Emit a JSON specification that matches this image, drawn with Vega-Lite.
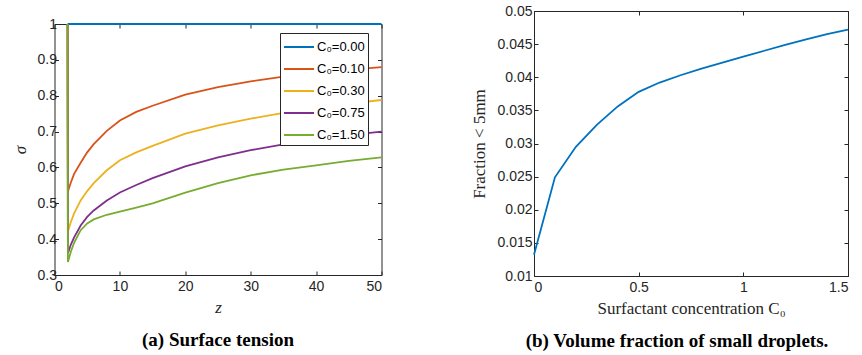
{
  "$schema": "https://vega.github.io/schema/vega-lite/v6.json",
  "background": "white",
  "padding": {"left": 10.5, "top": 4, "right": 2, "bottom": 0},
  "spacing": 84.5,
  "config": {
    "view": {"stroke": null},
    "axis": {
      "domainColor": "#262626", "tickColor": "#262626", "labelColor": "#262626",
      "labelFont": "Liberation Sans", "labelFontSize": 14,
      "titleFont": "Liberation Serif", "titleFontWeight": "normal", "titleColor": "#262626", "titleFontSize": 17,
      "grid": false, "tickSize": -4, "domainWidth": 1, "tickWidth": 1
    },
    "title": {"font": "Liberation Serif", "fontSize": 19, "fontWeight": "bold", "color": "#000"}
  },
  "datasets": {
    "left": [
      {"C0": "C₀=0.00", "z": 2, "s": 1}, {"C0": "C₀=0.00", "z": 50, "s": 1},
      {"C0": "C₀=0.10", "z": 2, "s": 1}, {"C0": "C₀=0.10", "z": 2.05, "s": 0.533}, {"C0": "C₀=0.10", "z": 2.5, "s": 0.558}, {"C0": "C₀=0.10", "z": 3, "s": 0.582}, {"C0": "C₀=0.10", "z": 4, "s": 0.613}, {"C0": "C₀=0.10", "z": 5, "s": 0.642}, {"C0": "C₀=0.10", "z": 6, "s": 0.665}, {"C0": "C₀=0.10", "z": 8, "s": 0.702}, {"C0": "C₀=0.10", "z": 10, "s": 0.731}, {"C0": "C₀=0.10", "z": 12.5, "s": 0.755}, {"C0": "C₀=0.10", "z": 15, "s": 0.772}, {"C0": "C₀=0.10", "z": 20, "s": 0.803}, {"C0": "C₀=0.10", "z": 25, "s": 0.824}, {"C0": "C₀=0.10", "z": 30, "s": 0.84}, {"C0": "C₀=0.10", "z": 35, "s": 0.853}, {"C0": "C₀=0.10", "z": 40, "s": 0.864}, {"C0": "C₀=0.10", "z": 45, "s": 0.872}, {"C0": "C₀=0.10", "z": 50, "s": 0.88},
      {"C0": "C₀=0.30", "z": 2, "s": 1}, {"C0": "C₀=0.30", "z": 2.05, "s": 0.421}, {"C0": "C₀=0.30", "z": 2.5, "s": 0.448}, {"C0": "C₀=0.30", "z": 3, "s": 0.472}, {"C0": "C₀=0.30", "z": 4, "s": 0.508}, {"C0": "C₀=0.30", "z": 5, "s": 0.534}, {"C0": "C₀=0.30", "z": 6, "s": 0.556}, {"C0": "C₀=0.30", "z": 8, "s": 0.592}, {"C0": "C₀=0.30", "z": 10, "s": 0.62}, {"C0": "C₀=0.30", "z": 12.5, "s": 0.642}, {"C0": "C₀=0.30", "z": 15, "s": 0.66}, {"C0": "C₀=0.30", "z": 20, "s": 0.694}, {"C0": "C₀=0.30", "z": 25, "s": 0.717}, {"C0": "C₀=0.30", "z": 30, "s": 0.736}, {"C0": "C₀=0.30", "z": 35, "s": 0.752}, {"C0": "C₀=0.30", "z": 40, "s": 0.766}, {"C0": "C₀=0.30", "z": 45, "s": 0.778}, {"C0": "C₀=0.30", "z": 50, "s": 0.788},
      {"C0": "C₀=0.75", "z": 2, "s": 1}, {"C0": "C₀=0.75", "z": 2.05, "s": 0.36}, {"C0": "C₀=0.75", "z": 2.5, "s": 0.385}, {"C0": "C₀=0.75", "z": 3, "s": 0.405}, {"C0": "C₀=0.75", "z": 4, "s": 0.438}, {"C0": "C₀=0.75", "z": 5, "s": 0.462}, {"C0": "C₀=0.75", "z": 6, "s": 0.48}, {"C0": "C₀=0.75", "z": 8, "s": 0.508}, {"C0": "C₀=0.75", "z": 10, "s": 0.53}, {"C0": "C₀=0.75", "z": 12.5, "s": 0.551}, {"C0": "C₀=0.75", "z": 15, "s": 0.57}, {"C0": "C₀=0.75", "z": 20, "s": 0.603}, {"C0": "C₀=0.75", "z": 25, "s": 0.628}, {"C0": "C₀=0.75", "z": 30, "s": 0.648}, {"C0": "C₀=0.75", "z": 35, "s": 0.664}, {"C0": "C₀=0.75", "z": 40, "s": 0.678}, {"C0": "C₀=0.75", "z": 45, "s": 0.69}, {"C0": "C₀=0.75", "z": 50, "s": 0.7},
      {"C0": "C₀=1.50", "z": 2, "s": 1}, {"C0": "C₀=1.50", "z": 2.05, "s": 0.336}, {"C0": "C₀=1.50", "z": 2.5, "s": 0.365}, {"C0": "C₀=1.50", "z": 3, "s": 0.39}, {"C0": "C₀=1.50", "z": 4, "s": 0.425}, {"C0": "C₀=1.50", "z": 5, "s": 0.444}, {"C0": "C₀=1.50", "z": 6, "s": 0.455}, {"C0": "C₀=1.50", "z": 8, "s": 0.468}, {"C0": "C₀=1.50", "z": 10, "s": 0.477}, {"C0": "C₀=1.50", "z": 12.5, "s": 0.488}, {"C0": "C₀=1.50", "z": 15, "s": 0.5}, {"C0": "C₀=1.50", "z": 20, "s": 0.53}, {"C0": "C₀=1.50", "z": 25, "s": 0.556}, {"C0": "C₀=1.50", "z": 30, "s": 0.578}, {"C0": "C₀=1.50", "z": 35, "s": 0.594}, {"C0": "C₀=1.50", "z": 40, "s": 0.606}, {"C0": "C₀=1.50", "z": 45, "s": 0.618}, {"C0": "C₀=1.50", "z": 50, "s": 0.628}
    ],
    "right": [
      {"c": 0, "f": 0.0132}, {"c": 0.1, "f": 0.0249}, {"c": 0.2, "f": 0.0295}, {"c": 0.3, "f": 0.0328}, {"c": 0.4, "f": 0.0356}, {"c": 0.5, "f": 0.0378}, {"c": 0.6, "f": 0.0392}, {"c": 0.7, "f": 0.0403}, {"c": 0.8, "f": 0.0413}, {"c": 0.9, "f": 0.0422}, {"c": 1.0, "f": 0.0431}, {"c": 1.1, "f": 0.044}, {"c": 1.2, "f": 0.0449}, {"c": 1.3, "f": 0.0457}, {"c": 1.4, "f": 0.0465}, {"c": 1.5, "f": 0.0472}
    ]
  },
  "hconcat": [
    {
      "spacing": 5,
      "vconcat": [
        {
          "width": 327, "height": 1,
          "data": {"values": [{"a": 0}]},
          "mark": {"type": "point", "opacity": 0, "size": 0}
        },
        {
          "width": 327, "height": 251,
          "data": {"name": "left"},
          "title": {"text": "(a) Surface tension", "orient": "bottom", "offset": 16},
          "layer": [
            {
              "mark": {"type": "line", "strokeWidth": 1.8},
              "encoding": {
                "x": {"field": "z", "type": "quantitative", "scale": {"domain": [0, 50], "nice": false},
                      "axis": {"values": [0, 10, 20, 30, 40, 50], "title": "z", "titleFontStyle": "italic", "labelPadding": 8, "titlePadding": 6}},
                "y": {"field": "s", "type": "quantitative", "scale": {"domain": [0.3, 1], "nice": false, "zero": false},
                      "axis": {"values": [0.3, 0.4, 0.5, 0.6, 0.7, 0.8, 0.9, 1], "format": ".1~f", "title": "σ", "titleFontStyle": "italic", "labelPadding": 2, "titlePadding": 8}},
                "color": {"field": "C0", "type": "nominal",
                          "scale": {"domain": ["C₀=0.00", "C₀=0.10", "C₀=0.30", "C₀=0.75", "C₀=1.50"], "range": ["#0072BD", "#D95319", "#EDB120", "#7E2F8E", "#77AC30"]},
                          "legend": {"title": null, "orient": "none", "direction": "vertical", "legendX": 225.5, "legendY": 22,
                                     "symbolType": "M-1,0L2,0", "symbolStrokeWidth": 2, "symbolSize": 400, "symbolFillColor": "transparent",
                                     "labelFont": "Liberation Sans", "labelFontSize": 13, "labelColor": "#000", "labelOffset": 12,
                                     "strokeColor": "#262626", "fillColor": "white", "padding": 3, "rowPadding": 4}}
              }
            },
            {
              "mark": {"type": "line", "strokeOpacity": 0},
              "encoding": {
                "x": {"field": "z", "type": "quantitative", "axis": {"orient": "top", "values": [0, 10, 20, 30, 40, 50], "labels": false, "title": null}},
                "y": {"field": "s", "type": "quantitative", "axis": {"orient": "right", "values": [0.3, 0.4, 0.5, 0.6, 0.7, 0.8, 0.9, 1], "labels": false, "title": null}},
                "detail": {"field": "C0", "type": "nominal"}
              }
            }
          ],
          "resolve": {"axis": {"x": "independent", "y": "independent"}}
        }
      ]
    },
    {
      "width": 314, "height": 265,
      "data": {"name": "right"},
      "title": {"text": "(b) Volume fraction of small droplets.", "orient": "bottom", "offset": 16, "dx": -14},
      "layer": [
        {
          "mark": {"type": "line", "strokeWidth": 1.8, "color": "#0072BD"},
          "encoding": {
            "x": {"field": "c", "type": "quantitative", "scale": {"domain": [0, 1.5], "nice": false},
                  "axis": {"values": [0, 0.5, 1, 1.5], "format": "~g", "title": "Surfactant concentration C₀", "labelPadding": 8, "titlePadding": 6}},
            "y": {"field": "f", "type": "quantitative", "scale": {"domain": [0.01, 0.05], "nice": false, "zero": false},
                  "axis": {"values": [0.01, 0.015, 0.02, 0.025, 0.03, 0.035, 0.04, 0.045, 0.05], "format": ".3~f", "title": "Fraction < 5mm", "labelPadding": 6, "titlePadding": 8}}
          }
        },
        {
          "mark": {"type": "line", "strokeOpacity": 0},
          "encoding": {
            "x": {"field": "c", "type": "quantitative", "axis": {"orient": "top", "values": [0, 0.5, 1, 1.5], "labels": false, "title": null}},
            "y": {"field": "f", "type": "quantitative", "axis": {"orient": "right", "values": [0.01, 0.015, 0.02, 0.025, 0.03, 0.035, 0.04, 0.045, 0.05], "labels": false, "title": null}}
          }
        }
      ],
      "resolve": {"axis": {"x": "independent", "y": "independent"}}
    }
  ]
}
